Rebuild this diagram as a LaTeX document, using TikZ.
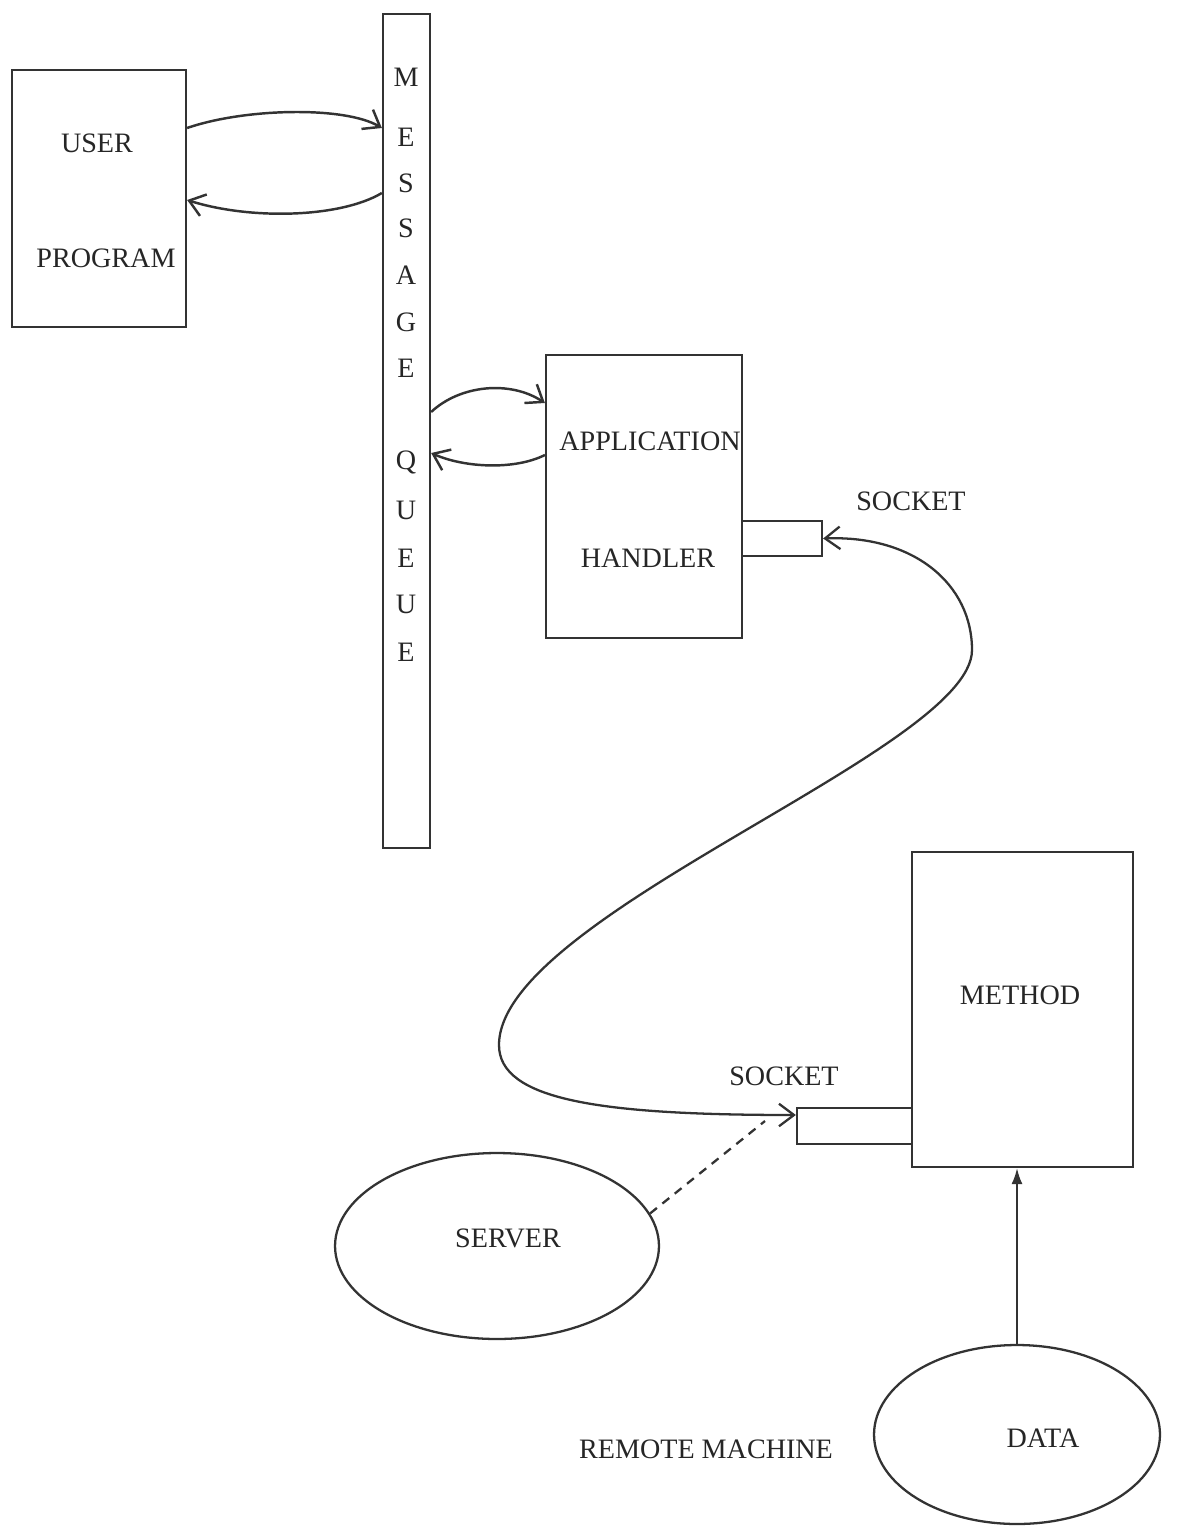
\documentclass[tikz,border=0pt]{standalone}
\usepackage{fontspec}
\setmainfont{Liberation Serif}
\usetikzlibrary{arrows.meta,shapes.geometric}

\begin{document}
\begin{tikzpicture}[
    x=0.02cm, y=-0.02cm,
    every node/.style={font=\fontsize{16}{19}\selectfont, text=black!85},
    box/.style={draw=black!80, line width=1.3pt, inner sep=0pt},
    oval/.style={draw=black!80, line width=1.3pt, ellipse, inner sep=0pt},
    lbl/.style={inner sep=0pt},
    arr/.style={-{Straight Barb[length=3mm,width=4.5mm]}, line width=1.4pt, draw=black!80},
    dblarr/.style={{Straight Barb[length=3mm,width=4.5mm]}-{Straight Barb[length=3mm,width=4.5mm]},
                   line width=1.3pt, draw=black!80},
    uparr/.style={-{Latex[length=3.2mm,width=2.2mm]}, line width=1.1pt, draw=black!80},
    dsh/.style={dashed, dash pattern=on 5pt off 4pt, line width=1.3pt, draw=black!80}
  ]
    \useasboundingbox[fill=white] (0,0) rectangle (1189,1528);

    % local side
    \node[box, minimum width=3.48cm, minimum height=5.14cm] (user) at (99,198.5) {};
    \node[lbl] (userA) at (97,143) {USER};
    \node[lbl] (userB) at (106,258) {PROGRAM};
    \node[box, minimum width=0.94cm, minimum height=16.68cm] (queue) at (406.5,431) {};
    \foreach \c/\y [count=\i] in {M/77,E/137,S/183,S/228,A/275,G/322,E/368,
                                  Q/462,U/510,E/558,U/604,E/652}
      \node[lbl] (q\i) at (406,\y) {\c};
    \node[box, minimum width=3.92cm, minimum height=5.66cm] (handler) at (644,496.5) {};
    \node[lbl] (handlerA) at (650,441) {APPLICATION};
    \node[lbl] (handlerB) at (648,558) {HANDLER};
    \node[box, minimum width=1.6cm, minimum height=0.7cm] (sockA) at (782,538.5) {};
    \node[lbl] (sockAlbl) at (911,501) {SOCKET};

    % remote side
    \node[box, minimum width=4.42cm, minimum height=6.3cm] (method) at (1022.5,1009.5) {};
    \node[lbl] (methodlbl) at (1020,995) {METHOD};
    \node[box, minimum width=2.3cm, minimum height=0.72cm] (sockB) at (854.5,1126) {};
    \node[lbl] (sockBlbl) at (784,1076) {SOCKET};
    \node[oval, minimum width=6.48cm, minimum height=3.72cm] (server) at (497,1246) {};
    \node[lbl] (serverlbl) at (508,1238) {SERVER};
    \node[oval, minimum width=5.72cm, minimum height=3.58cm] (data) at (1017,1434.5) {};
    \node[lbl] (datalbl) at (1043,1438) {DATA};
    \node[lbl] (remote) at (706,1449) {REMOTE MACHINE};
    \coordinate (dashend) at (765,1121);

    % connectors
    \draw[arr] (user.east |- 0,128) .. controls (245,108) and (345,106) .. (queue.west |- 0,128);
    \draw[arr] (queue.west |- 0,193) .. controls (340,218) and (250,220) .. (user.east |- 0,200);
    \draw[arr] (queue.east |- 0,412) .. controls (460,385) and (510,380) .. (handler.west |- 0,403);
    \draw[arr] (handler.west |- 0,455) .. controls (515,470) and (465,468) .. (queue.east |- 0,453);
    \draw[dblarr] (sockA.east) .. controls (915,535) and (972,585) .. (972,650)
                  .. controls (972,750) and (499,915) .. (499,1045)
                  .. controls (499,1100) and (600,1115) .. (sockB.west |- 0,1115);
    \draw[dsh] (server.12) -- (dashend);
    \draw[uparr] (data.north) -- (data.north |- method.south);
  \end{tikzpicture}
\end{document}
